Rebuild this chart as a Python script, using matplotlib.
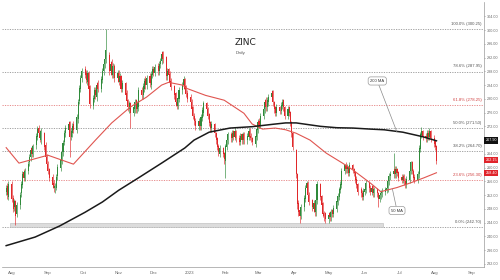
import matplotlib
matplotlib.use("Agg")
import matplotlib.pyplot as plt
import matplotlib.dates as mdates
import numpy as np
import pandas as pd

# daily candles, 27 Jul 2022 - 2 Aug 2023 (business days)
opens = [253, 254.5, 251.5,
         255, 251, 248.5, 250, 246.5, 249, 252.5, 255, 258.5, 257, 259, 261.5, 263, 265.5, 264, 266.5, 269, 271.5, 270, 268, 270, 266.5, 263,
         261, 259.5, 257, 255.5, 254, 254, 257.5, 260, 262, 264.5, 267.5, 270, 271, 273, 269, 270, 272.5, 271, 274, 279.5, 283, 286,
         288.5, 287.5, 285, 287.5, 283.5, 278, 280, 282.5, 280.5, 284.5, 283, 285.5, 288, 290, 291.5, 292.5, 288, 290.5, 287, 289.5, 286,
         287.5, 285, 286.5, 283, 284.5, 281.5, 279.5, 277, 278.5, 276, 277, 279.5, 277, 277.5, 282.5, 281, 283, 285.5, 284, 286.5, 284, 287,
         288.5, 287.5, 289.5, 288, 290, 291, 293.5, 292, 286.5, 288.5, 287, 285, 283.5, 281.5, 279, 278, 280, 282.5, 284, 285.5, 283.5, 281.5,
         280.5, 279, 277.5, 275, 273.5, 272, 273.5, 272, 274.5, 276, 278.5, 277, 275.5, 273, 271.5, 272.5, 270, 268.5, 266, 264, 265.5, 264,
         262, 266, 268, 269.5, 268.5, 270.5, 269, 270.5, 268.5, 267.5, 269.5, 268, 269.5, 268, 269, 270.5, 269, 268.5, 267, 269,
         271, 273.5, 272.5, 275, 277, 279.5, 277.5, 279, 280.5, 282, 279, 277.5, 276, 277.5, 276.5, 278, 279.5, 277.5, 275, 277.5, 276, 273, 270,
         265, 258, 249.5, 247.5, 246, 248.5, 251, 254, 255.5, 252, 250.5, 248, 249.5, 247, 250.5, 255, 251.5, 249.5, 246.5, 246.5,
         245, 246.5, 245.5, 247.5, 246.5, 248, 250, 251.5, 253.5, 255, 259, 260.5, 259.5, 260, 258.5, 260.5, 259.5, 258.5, 256.5, 255, 253.5, 252.5, 251.5,
         253, 253.5, 255.5, 254, 253, 254.5, 252.5, 253.5, 252.5, 251, 252, 252.5, 253, 253.5, 254, 256, 257.5, 258, 259.5, 258, 259.5, 258.5,
         257, 256.5, 257.5, 256, 255, 256.5, 259, 261.5, 259, 257, 256.5, 258, 265.5, 269.5, 270.5, 269, 268.5, 270, 269, 270.5, 268.5,
         267.5, 266]
highs = [255, 255.5, 256,
         256, 252, 251, 250.5, 250, 253, 256, 259, 259.5, 260, 262, 264, 266, 266.5, 267, 270, 272, 272.5, 271, 271.5, 270.5, 267.5, 264,
         262, 260, 258, 256.5, 255.5, 258, 261, 263, 265.5, 268, 271, 272.5, 273.5, 273.5, 271.5, 273, 273.5, 275.5, 280, 284, 287, 289,
         289.5, 288.5, 288.5, 288, 284, 281, 283.5, 283.5, 285, 285.5, 286.5, 289, 291, 292.5, 300.25, 293.5, 291, 291.5, 290.5, 290, 288.5,
         288.5, 287.5, 287, 285.5, 285, 282.5, 280, 279.5, 279, 278.5, 280, 280, 279.5, 283.5, 283.5, 284.5, 286, 286.5, 287, 287.5, 288, 289.5,
         289.5, 290, 290.5, 291, 292, 294, 294, 292.5, 289, 289, 288, 286, 284, 282, 280, 281, 283.5, 285, 286.5, 286, 284, 282.5,
         281.5, 280, 278, 276, 274.5, 274.5, 274, 275.5, 277.5, 279.5, 279, 277.5, 276, 273.5, 273.5, 273, 270.5, 269, 267, 266.5, 266, 264.5,
         267, 269, 270.5, 270.5, 271, 271, 271.5, 271, 269.5, 270, 270, 270.5, 270.5, 270, 271.5, 271.5, 270, 269, 270, 272,
         274, 274.5, 276, 278, 280, 280.5, 280.5, 281.5, 282.5, 282.5, 279.5, 278, 278.5, 278, 279, 280, 280, 278, 278, 278, 276.5, 273.5, 270.5,
         265.5, 258.5, 250.5, 248.5, 249.5, 252, 255, 256, 256, 253, 251, 250.5, 250, 251.5, 256, 255.5, 252, 250, 247.5, 247,
         247, 247.5, 248, 248, 249, 251, 252.5, 254.5, 256, 260, 261, 261.5, 261, 260.5, 261.6, 261, 260, 259, 257.5, 255.5, 254.5, 253.5, 254,
         254.5, 256.5, 256, 255, 255, 255, 254.5, 254, 253, 253, 253.5, 254, 254.5, 255, 257, 258.5, 259, 264.2, 260.5, 260.5, 260, 259,
         258, 258, 258, 257, 257.5, 260, 262, 262, 259.5, 258, 259, 266.5, 270.5, 271.8, 271, 270, 271, 271, 271.5, 271, 269.5,
         268, 266.5]
lows = [252, 251, 250.5,
        250, 247, 247.5, 243.2, 245.5, 248, 251.5, 254, 256, 256, 258, 260.5, 262, 263, 263, 265.5, 268, 269, 267.5, 267, 265, 262, 260,
        258, 256, 254, 253, 252.5, 253.5, 256.5, 259, 261, 263.5, 266.5, 269, 270, 263.2, 268, 269, 270, 270, 273, 278.5, 282, 285,
        286, 284.5, 284, 282, 277.3, 277, 279, 280, 279.5, 282, 282, 284.5, 287, 289, 290.5, 287, 287, 286, 286, 285, 285,
        284, 284, 282, 282, 280, 278.5, 276.5, 276, 271.5, 275, 276, 276, 276, 276.5, 280, 280, 282, 283, 283, 283.5, 283, 286,
        286.5, 286.5, 287, 287, 289, 290, 290.5, 285.5, 285.5, 286, 284, 282.5, 280, 278, 277, 277, 279, 281.5, 283, 282, 280.5, 279,
        278, 276, 274, 272.5, 271, 271, 271, 271, 273.5, 275, 276, 274, 272, 270.5, 270.5, 269, 267, 265, 263.5, 263, 263, 261,
        257, 265, 267, 267.5, 267.5, 268, 268, 267.5, 266.5, 266.5, 267, 267, 267, 267, 268, 268, 267.5, 266.5, 266, 268,
        270, 271.5, 271.5, 274, 276, 276.5, 276.5, 278, 279.5, 278, 276, 275, 275, 275.5, 275.5, 277, 276.5, 274, 274, 275, 272, 269, 265,
        257, 248, 246, 243.9, 245, 247.5, 250, 253, 251, 249, 247.5, 247, 246, 246, 249.5, 250.5, 248, 245.5, 244.5, 243.9,
        244, 244.5, 244.5, 245.5, 245.5, 247, 249, 250.5, 252.5, 254, 258, 258.5, 258.5, 257.5, 257.5, 258.5, 257.5, 255.5, 254, 252, 251.5, 250.5, 250.5,
        252, 252.5, 253, 252, 252, 251.5, 251.5, 251.5, 248.5, 250, 251, 251.5, 252, 252.5, 253, 255, 256.5, 257, 257, 257, 257.5, 256,
        255.5, 255.5, 255, 254, 254, 255.5, 258, 258, 256, 255.5, 255.5, 257, 264.5, 268.5, 268, 267.5, 267.5, 268, 268, 267.5, 266,
        265, 261]
closes = [254, 252, 255,
          251, 248, 250, 246, 249, 252, 255, 258, 257, 259, 261, 263, 265, 264, 266, 269, 271, 270, 268.5, 270.5, 266, 263, 261,
          259, 257, 255, 254, 254.5, 257, 260, 262, 264.5, 267, 270, 271.5, 272.5, 269, 270.5, 272, 271, 274.5, 279, 283, 286, 288,
          287, 285.5, 287.5, 283, 278.5, 280, 282.5, 281, 284, 283, 285.5, 288, 290, 291.5, 294, 288, 290, 287, 289.5, 286, 287.5,
          285, 286.5, 283, 284.5, 281, 279.5, 277.5, 278.5, 276, 277.5, 279, 277, 278.5, 282.5, 281, 283.5, 285, 284, 286, 284.5, 287, 288.5,
          287.5, 289, 288, 290, 291, 293, 291.5, 286.5, 288, 287, 285, 283.5, 281, 279, 278, 280, 282.5, 284, 285.5, 283, 281.5, 280,
          279, 277, 275, 273.5, 272, 273.5, 272, 274.5, 276.5, 278.5, 277, 275, 273, 271.5, 272.5, 270, 268, 266, 264.5, 265.5, 264, 262.5,
          266, 268, 269.5, 268.5, 270, 269, 270.5, 268.5, 267.5, 269, 268, 269.5, 268, 269, 270.5, 269, 268.5, 267.5, 269, 271,
          273, 272.5, 275, 277, 279, 277.5, 279.5, 280.5, 281.5, 279, 277, 276, 277.5, 276.5, 278, 279, 277.5, 275, 277, 276, 273, 270, 266,
          258, 249.5, 247, 246, 248.5, 251, 254, 255.5, 252, 250, 248.5, 249.5, 247, 250.5, 255, 251.5, 249, 246.5, 246, 245,
          246, 245.5, 247, 246.5, 248, 250, 251.5, 253.5, 255, 259, 260.5, 259.5, 260, 258.5, 260.5, 259.5, 258.5, 256.5, 255, 253, 252.5, 251.5, 253,
          253.5, 255.5, 254, 253, 254, 252.5, 253.5, 252.5, 251, 252, 252.5, 253, 253.5, 254, 256, 257.5, 258, 259, 258, 259.5, 258.5, 257,
          256.5, 257, 256, 255, 256.5, 259, 261.5, 259, 257, 256.5, 258, 265.5, 269.5, 270.5, 269, 268.5, 270, 269, 270.5, 268.5, 267,
          266, 262]

# moving averages
ma200_dates = ["2022-07-27", "2022-08-21", "2022-09-11", "2022-10-03", "2022-10-18", "2022-11-01",
               "2022-11-18", "2022-12-08", "2022-12-28", "2023-01-05", "2023-01-18", "2023-02-05",
               "2023-02-24", "2023-03-14", "2023-03-25", "2023-04-03", "2023-04-24", "2023-05-08",
               "2023-05-22", "2023-06-06", "2023-06-18", "2023-07-04", "2023-07-21", "2023-08-02"]
ma200_vals = [237.3, 239.8, 243.0, 247.0, 250.0, 253.4, 257.0, 261.3, 265.7, 268.0, 270.3, 271.5,
              271.9, 272.6, 273.0, 273.0, 272.0, 271.6, 271.5, 271.2, 271.0, 270.3, 269.0, 267.8]
ma50_dates = ["2022-07-27", "2022-08-07", "2022-09-01", "2022-09-23", "2022-10-12", "2022-10-26",
              "2022-11-11", "2022-11-25", "2022-12-08", "2022-12-14", "2022-12-26", "2022-12-30",
              "2023-01-15", "2023-01-31", "2023-02-17", "2023-02-24", "2023-03-05", "2023-03-16",
              "2023-03-25", "2023-04-03", "2023-04-15", "2023-04-29", "2023-05-13", "2023-05-22",
              "2023-06-06", "2023-06-15", "2023-06-29", "2023-07-11", "2023-07-22", "2023-08-02"]
ma50_vals = [265.8, 261.3, 263.6, 261.0, 268.0, 273.0, 277.6, 280.5, 284.0, 284.8, 284.0, 283.0,
             281.0, 279.6, 275.8, 272.7, 271.2, 271.5, 271.0, 270.0, 268.0, 264.2, 261.3, 259.3,
             255.5, 253.0, 254.2, 255.6, 257.0, 258.5]

fib_names = ["100.0%", "78.6%", "61.8%", "50.0%", "38.2%", "23.6%", "0.0%"]
fib_vals = [300.25, 287.95, 278.25, 271.50, 264.70, 256.30, 242.70]
fib_red = [False, False, True, False, False, True, False]

month_ticks = ["2022-08-01", "2022-09-01", "2022-10-01", "2022-11-01", "2022-12-01", "2023-01-01", "2023-02-01",
               "2023-03-01", "2023-04-01", "2023-05-01", "2023-06-01", "2023-07-01", "2023-08-01", "2023-09-01"]
month_labels = ["Aug", "Sep", "Oct", "Nov", "Dec", "2023", "Feb", "Mar", "Apr", "May", "Jun", "Jul", "Aug", "Sep"]

price_ticks = [232, 236, 240, 244, 248, 252, 256, 260, 264, 272, 276, 280, 284, 288, 292, 296, 300, 304]

tags = ["267.90", "262.15", "258.40"]
tag_vals = [267.9, 262.15, 258.4]
tag_cols = ["#111111", "#e0242b", "#e0242b"]

GREEN = "#2f8a3a"
RED = "#e0282a"
FONT = "Liberation Sans"

dates = pd.bdate_range("2022-07-27", periods=len(closes))
x = mdates.date2num(dates)
o = np.array(opens); h = np.array(highs); l = np.array(lows); c = np.array(closes)

fig = plt.figure(figsize=(5, 2.8), dpi=100)
ax = fig.add_axes([0.004, 0.046, 0.964, 0.946])

# fib levels
for name, v, red in zip(fib_names, fib_vals, fib_red):
    col = "#e27070" if red else "#8a8a8a"
    ax.axhline(v, color=col, lw=0.55, ls=(0, (1.6, 1.6)), zorder=1)
    ax.text(0.995, v + 0.9, f"{name} ({v:.2f})", transform=ax.get_yaxis_transform(),
            ha="right", va="bottom", fontsize=3.1, family=FONT,
            color="#d04040" if red else "#555555")

# support band
x0 = mdates.date2num(pd.Timestamp("2022-07-30"))
x1 = mdates.date2num(pd.Timestamp("2023-06-17"))
ax.fill_between([x0, x1], 242.7, 244.0, color="#dcdcdc", edgecolor="#b8b8b8", lw=0.4, zorder=2)

# candles
up = c >= o
cols = np.where(up, GREEN, RED)
ax.vlines(x, l, h, colors=cols, lw=0.45, zorder=3)
ax.bar(x, np.abs(c - o) + 0.15, bottom=np.minimum(o, c), width=0.9, color=cols, lw=0, zorder=4)

# moving averages
ax.plot(mdates.date2num(pd.to_datetime(ma50_dates)), ma50_vals, color="#e05550", lw=0.8, zorder=5)
ax.plot(mdates.date2num(pd.to_datetime(ma200_dates)), ma200_vals, color="#1a1a1a", lw=1.1, zorder=5)

# callouts
box = dict(boxstyle="round,pad=0.5,rounding_size=0.6", fc="white", ec="#9a9a9a", lw=0.5)
ax.annotate("200 MA", xy=(mdates.date2num(pd.Timestamp("2023-06-29")), 270.3),
            xytext=(mdates.date2num(pd.Timestamp("2023-06-12")), 285.2),
            fontsize=3, family=FONT, ha="center", va="center", color="#333333", bbox=box,
            arrowprops=dict(arrowstyle="-", color="#8a8a8a", lw=0.5, shrinkA=0, shrinkB=0), zorder=6)
ax.annotate("50 MA", xy=(mdates.date2num(pd.Timestamp("2023-06-25")), 253.8),
            xytext=(mdates.date2num(pd.Timestamp("2023-06-29")), 247.5),
            fontsize=3, family=FONT, ha="center", va="center", color="#333333", bbox=box,
            arrowprops=dict(arrowstyle="-", color="#8a8a8a", lw=0.5, shrinkA=0, shrinkB=0), zorder=6)

# title
ax.text(0.482, 0.848, "ZINC", transform=ax.transAxes, fontsize=6.5, color="#222222",
        family="Liberation Sans Narrow", ha="left", va="center")
ax.text(0.484, 0.81, "Daily", transform=ax.transAxes, fontsize=3.2, family=FONT,
        color="#555555", ha="left", va="center")

# axes
aug1 = mdates.date2num(pd.Timestamp("2022-08-01"))
ax.set_xlim(aug1 - 8.6, aug1 + 407)
ax.set_ylim(231.05, 308.1)
ax.yaxis.tick_right()
ax.set_yticks(price_ticks)
ax.set_yticklabels([f"{v:.2f}" for v in price_ticks], family=FONT)
ax.set_xticks(mdates.date2num(pd.to_datetime(month_ticks)))
ax.set_xticklabels(month_labels, family=FONT)
ax.tick_params(axis="x", labelsize=3.2, colors="#666666", length=0, pad=2.5)
ax.tick_params(axis="y", labelsize=2.7, colors="#666666", length=1.0, width=0.4, pad=1.2)
for s in ["top", "left"]:
    ax.spines[s].set_visible(False)
for s in ["right", "bottom"]:
    ax.spines[s].set_color("#9a9a9a")
    ax.spines[s].set_linewidth(0.5)

# price tags on the right axis
for t, v, col in zip(tags, tag_vals, tag_cols):
    ax.text(1.003, v, t, transform=ax.get_yaxis_transform(), fontsize=2.7, family=FONT, color="white",
            ha="left", va="center", bbox=dict(boxstyle="square,pad=0.3", fc=col, ec="none"), zorder=7)

fig.savefig("out.png", dpi=100)
